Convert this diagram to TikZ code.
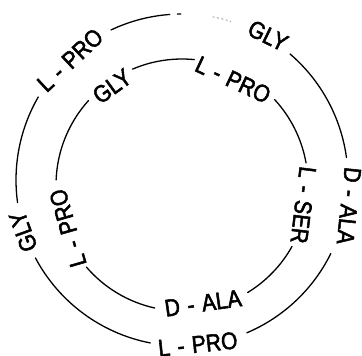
\documentclass[tikz,border=0pt]{standalone}
\usepackage{fontspec}
\setmainfont{Liberation Sans}
\newfontfamily\labfont[FakeStretch=0.88, FakeBold=2.2]{Liberation Sans}
\newcommand\gapdash{\kern7.5pt-\kern7.5pt}
\begin{document}
\begin{tikzpicture}[x=1pt,y=1pt,
  lab/.style={font=\labfont\fontsize{24}{24}\selectfont, inner sep=0pt},
  ring/.style={line width=1.3pt, line cap=round}]
\path[use as bounding box] (0,-356) rectangle (362,0);
\coordinate (O) at (182,-180);
\coordinate (I) at (182,-185);
% outer ring labels
\node[lab, rotate=43]  (oLPa) at ([shift={(133:164pt)}]O) {L\gapdash PRO};
\node[lab, rotate=-26] (oGLa) at ([shift={(59.2:168pt)}]O) {GLY};
\node[lab, rotate=-96] (oDA)  at ([shift={(-8.8:169pt)}]O) {D\gapdash ALA};
\node[lab, rotate=6]   (oLPb) at ([shift={(-84.5:165pt)}]O) {L\gapdash PRO};
\node[lab, rotate=110] (oGLb) at ([shift={(198:167pt)}]O) {GLY};
% outer ring arcs
\draw[ring] ([shift={(150:166pt)}]O) arc[start angle=150, end angle=187.8, radius=166pt];
\draw[ring] ([shift={(208:166pt)}]O) arc[start angle=208, end angle=259, radius=166pt];
\draw[ring] ([shift={(-67:166pt)}]O) arc[start angle=-67, end angle=-26.3, radius=166pt];
\draw[ring] ([shift={(7.8:166pt)}]O) arc[start angle=7.8, end angle=49.4, radius=166pt];
\draw[ring] ([shift={(94.2:166pt)}]O) arc[start angle=94.2, end angle=115.3, radius=166pt];
\draw[ring] ([shift={(91.6:166pt)}]O) arc[start angle=91.6, end angle=90.4, radius=166pt];
\draw[line width=0.7pt, gray, dash pattern=on 2pt off 2.5pt] ([shift={(79.4:166pt)}]O) arc[start angle=79.4, end angle=72.8, radius=166pt];
% inner ring labels
\node[lab, rotate=36]  (iGLa) at ([shift={(125.3:121pt)}]I) {GLY};
\node[lab, rotate=-25] (iLPa) at ([shift={(64.1:117pt)}]I) {L\gapdash PRO};
\node[lab, rotate=-97] (iLS)  at ([shift={(-9.4:123pt)}]I) {L\gapdash SER};
\node[lab, rotate=8]   (iDA)  at ([shift={(-79.9:120pt)}]I) {D\gapdash ALA};
\node[lab, rotate=106] (iLPb) at ([shift={(200.7:122pt)}]I) {L\gapdash PRO};
% inner ring arcs
\draw[ring] ([shift={(113.1:126pt)}]I) arc[start angle=113.1, end angle=84.4, radius=126pt];
\draw[ring] ([shift={(42.7:126pt)}]I) arc[start angle=42.7, end angle=10.1, radius=126pt];
\draw[ring] ([shift={(-29.2:126pt)}]I) arc[start angle=-29.2, end angle=-58.6, radius=126pt];
\draw[ring] ([shift={(-102.5:126pt)}]I) arc[start angle=-102.5, end angle=-139.4, radius=126pt];
\draw[ring] ([shift={(177.7:126pt)}]I) arc[start angle=177.7, end angle=137.9, radius=126pt];
\end{tikzpicture}
\end{document}
